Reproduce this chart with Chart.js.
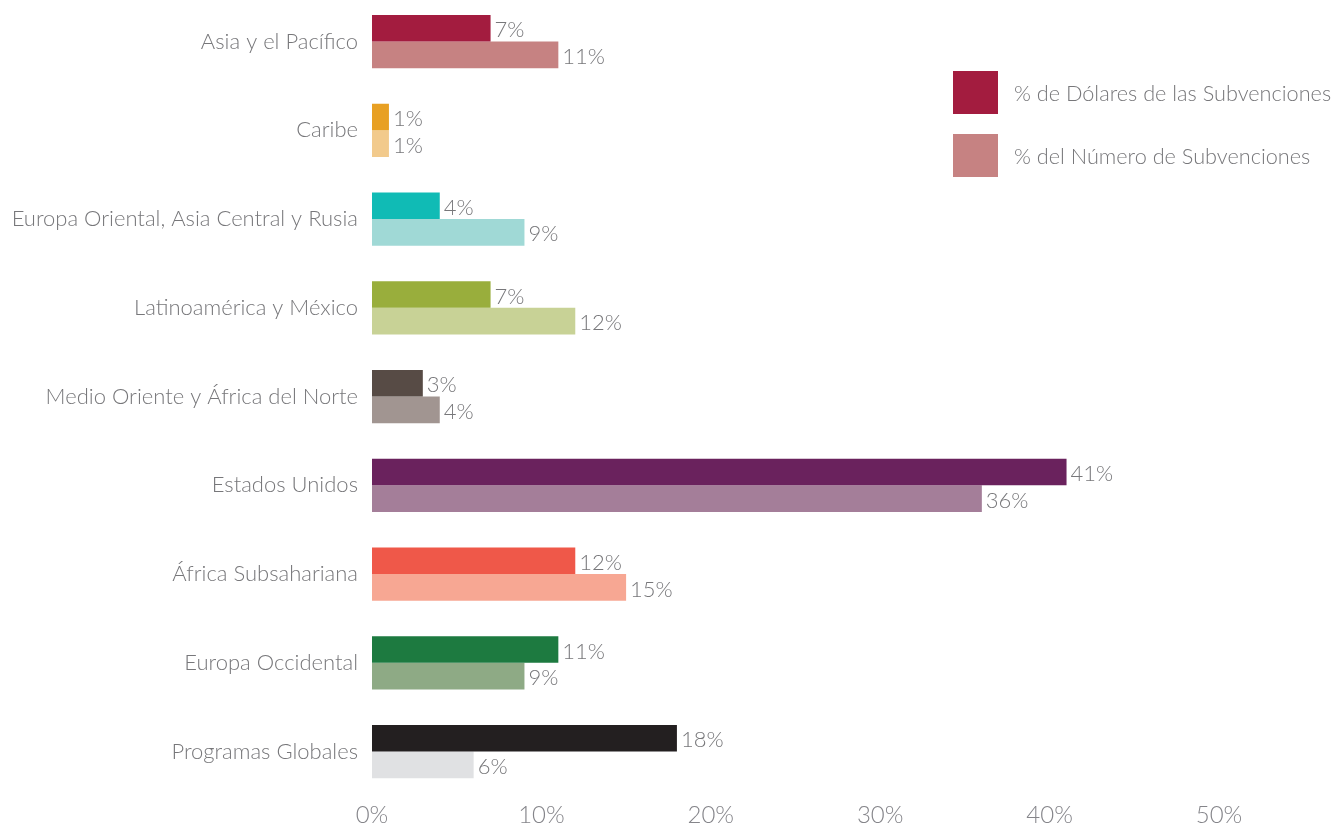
<!DOCTYPE html>
<html>
<head>
<meta charset="utf-8">
<script src="https://cdn.jsdelivr.net/npm/chart.js@4"></script>
<style>
  html, body { margin: 0; padding: 0; background: #fff; overflow: hidden; }
  body { width: 1334px; height: 825px; position: relative; font-family: Lato, "Open Sans", sans-serif; }
  #wrap { position: absolute; left: 0; top: -30px; width: 1334px; height: 856px; }
  .legend-item { position: absolute; left: 953px; height: 43px; display: flex; align-items: center; }
  .legend-box { width: 45px; height: 43px; margin-right: 16px; }
  .legend-text { font-size: 21.7px; font-weight: 300; color: #77777a; white-space: nowrap; }
</style>
</head>
<body>
<div id="wrap"><canvas id="chart"></canvas></div>
<div class="legend-item" style="top:71px"><div class="legend-box" style="background:#A31C3F"></div><span class="legend-text">% de Dólares de las Subvenciones</span></div>
<div class="legend-item" style="top:134px"><div class="legend-box" style="background:#C68282"></div><span class="legend-text">% del Número de Subvenciones</span></div>
<script>
// Regions and values (percent)
const regions = [
  'Asia y el Pacífico',
  'Caribe',
  'Europa Oriental, Asia Central y Rusia',
  'Latinoamérica y México',
  'Medio Oriente y África del Norte',
  'Estados Unidos',
  'África Subsahariana',
  'Europa Occidental',
  'Programas Globales'
];
const dollarShare = [7, 1, 4, 7, 3, 41, 12, 11, 18];
const grantShare = [11, 1, 9, 12, 4, 36, 15, 9, 6];

const darkColors = ['#A31C3F', '#E8A023', '#10BBB5', '#99AE3C', '#574B45', '#6A225D', '#EF5849', '#1D7A40', '#231F20'];
const lightColors = ['#C68282', '#F2CA8C', '#A0D9D6', '#C8D296', '#A19591', '#A47E99', '#F7A793', '#8EAA85', '#E0E1E3'];

const xTicks = [0, 10, 20, 30, 40, 50];

const textColor = '#77777a';
const fontFamily = 'Lato, "Open Sans", sans-serif';

// Draw value labels at the end of each bar
const valueLabels = {
  id: 'valueLabels',
  afterDatasetsDraw(chart) {
    const ctx = chart.ctx;
    ctx.save();
    ctx.font = '300 22px ' + fontFamily;
    ctx.fillStyle = textColor;
    ctx.textAlign = 'left';
    ctx.textBaseline = 'middle';
    chart.data.datasets.forEach((ds, i) => {
      chart.getDatasetMeta(i).data.forEach((bar, j) => {
        ctx.fillText(ds.data[j] + '%', bar.x + 4, bar.y + 2);
      });
    });
    ctx.restore();
  }
};

new Chart(document.getElementById('chart'), {
  type: 'bar',
  data: {
    labels: regions,
    datasets: [
      { label: '% de Dólares de las Subvenciones', data: dollarShare, backgroundColor: darkColors },
      { label: '% del Número de Subvenciones', data: grantShare, backgroundColor: lightColors }
    ]
  },
  options: {
    indexAxis: 'y',
    responsive: true,
    maintainAspectRatio: false,
    animation: false,
    categoryPercentage: 0.6,
    barPercentage: 1,
    layout: { padding: { top: 0, right: 115, left: 0, bottom: 0 } },
    plugins: {
      legend: { display: false },
      tooltip: { enabled: false }
    },
    scales: {
      x: {
        min: 0,
        max: 50,
        afterBuildTicks: scale => { scale.ticks = xTicks.map(v => ({ value: v })); },
        afterFit: scale => { scale.height = 30; },
        grid: { display: false, drawTicks: false },
        border: { display: false },
        ticks: {
          padding: 5,
          color: '#85858a',
          font: { size: 24, weight: 300, family: fontFamily },
          callback: v => v + '%'
        }
      },
      y: {
        afterFit: scale => { scale.width = 372; },
        grid: { display: false, drawTicks: false },
        border: { display: false },
        ticks: {
          padding: 14,
          color: textColor,
          font: { size: 22, weight: 300, family: fontFamily }
        }
      }
    }
  },
  plugins: [valueLabels]
});
</script>
</body>
</html>
